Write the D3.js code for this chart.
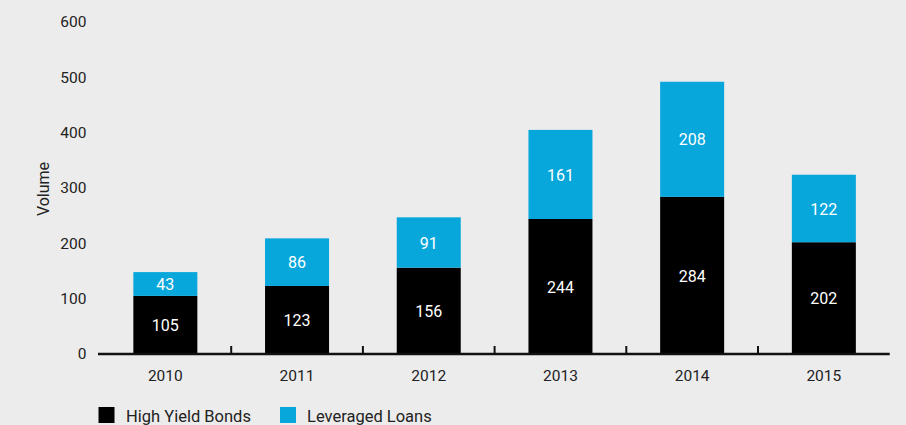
<!DOCTYPE html>
<html>
<head>
<meta charset="utf-8">
<script src="https://cdn.jsdelivr.net/npm/d3@7"></script>
<style>
  html, body { margin: 0; padding: 0; background: #ececec; }
  svg { display: block; font-family: Roboto, "Liberation Sans", Arial, sans-serif; }
</style>
</head>
<body>
<svg id="chart" width="906" height="425"></svg>
<script>
const years = ["2010", "2011", "2012", "2013", "2014", "2015"];
const highYieldBonds = [105, 123, 156, 244, 284, 202];
const leveragedLoans = [43, 86, 91, 161, 208, 122];
const yTicks = [0, 100, 200, 300, 400, 500, 600];
const seriesNames = ["High Yield Bonds", "Leveraged Loans"];
const seriesColors = ["#000000", "#07a6db"];

const svg = d3.select("#chart");
const plotLeft = 99.5, plotRight = 889.7, plotTop = 22, plotBottom = 354;
const barWidth = 64;

const step = (plotRight - plotLeft) / years.length;
const x = d3.scaleBand().domain(years).range([plotLeft, plotRight])
  .paddingInner((step - barWidth) / step).paddingOuter((step - barWidth) / step / 2);
const y = d3.scaleLinear().domain([0, 600]).range([plotBottom, plotTop]);

const rows = years.map((yr, i) => ({ year: yr, hy: highYieldBonds[i], ll: leveragedLoans[i] }));
const stacked = d3.stack().keys(["hy", "ll"])(rows);

// Y axis labels (no axis line)
const yAxis = svg.append("g").attr("transform", `translate(${plotLeft},0)`)
  .call(d3.axisLeft(y).tickValues(yTicks).tickSize(0).tickPadding(13));
yAxis.select(".domain").remove();
yAxis.selectAll("text").attr("font-size", 15.5).attr("fill", "#222")
  .attr("font-family", "Roboto, 'Liberation Sans', Arial, sans-serif");

svg.append("text")
  .attr("transform", `translate(49,${(plotTop + plotBottom) / 2 + 1}) rotate(-90)`)
  .attr("text-anchor", "middle").attr("font-size", 16).attr("fill", "#222")
  .text("Volume");

// Stacked bars
stacked.forEach((layer, li) => {
  const g = svg.append("g");
  g.selectAll("rect").data(layer).join("rect")
    .attr("x", d => x(d.data.year))
    .attr("width", x.bandwidth())
    .attr("y", d => y(d[1]))
    .attr("height", d => y(d[0]) - y(d[1]))
    .attr("fill", seriesColors[li]);
  g.selectAll("text").data(layer).join("text")
    .attr("x", d => x(d.data.year) + x.bandwidth() / 2)
    .attr("y", d => (y(d[0]) + y(d[1])) / 2)
    .attr("dy", "0.38em")
    .attr("text-anchor", "middle")
    .attr("font-size", 16).attr("fill", "#fff")
    .text(d => d[1] - d[0]);
});

// X axis baseline with ticks between categories
const xAxisG = svg.append("g");
xAxisG.append("line")
  .attr("x1", plotLeft - 1.5).attr("x2", plotRight)
  .attr("y1", plotBottom).attr("y2", plotBottom)
  .attr("stroke", "#111").attr("stroke-width", 2.5);
const boundaries = years.slice(1).map(yr => x(yr) - x.step() * x.paddingInner() / 2);
xAxisG.selectAll("line.tick").data(boundaries).join("line")
  .attr("class", "tick")
  .attr("x1", d => d).attr("x2", d => d)
  .attr("y1", plotBottom).attr("y2", plotBottom - 8)
  .attr("stroke", "#111").attr("stroke-width", 2);
xAxisG.selectAll("text").data(years).join("text")
  .attr("x", d => x(d) + x.bandwidth() / 2)
  .attr("y", 381)
  .attr("text-anchor", "middle").attr("font-size", 15.5).attr("fill", "#222")
  .text(d => d);

// Legend
const legendX = [98.5, 280];
const legend = svg.append("g");
seriesNames.forEach((name, i) => {
  legend.append("rect").attr("x", legendX[i]).attr("y", 407)
    .attr("width", 16).attr("height", 16).attr("fill", seriesColors[i]);
  legend.append("text").attr("x", legendX[i] + (i === 0 ? 27.5 : 27)).attr("y", 421.5)
    .attr("font-size", 16.5).attr("fill", "#222").text(name);
});
</script>
</body>
</html>
